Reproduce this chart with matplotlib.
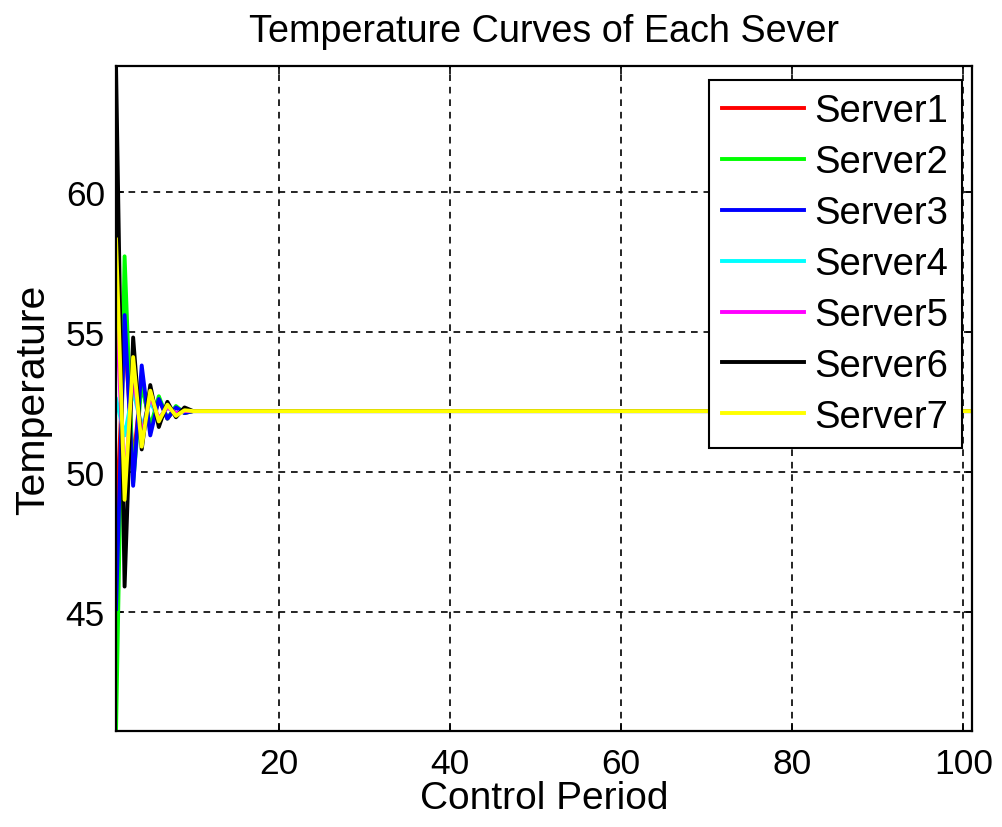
import matplotlib
matplotlib.use("Agg")
import matplotlib.pyplot as plt
import numpy as np

plt.rcParams['font.family'] = ['Liberation Sans', 'DejaVu Sans']

# Control periods 1..101
periods = list(range(1, 102))
steady = 52.17

# Transient parts (first control periods), then steady value
server1_head = [48.0, 55.0, 50.3, 53.3, 51.5, 52.6, 51.9, 52.3, 52.1]
server2_head = [40.75, 57.7, 49.6, 53.2, 51.6, 52.7, 51.9, 52.35, 52.1]
server3_head = [45.1, 55.6, 49.5, 53.8, 51.3, 52.6, 51.9, 52.3, 52.1]
server4_head = [52.6, 51.3, 52.9, 51.6, 52.5, 51.9, 52.3, 52.1]
server5_head = [56.0, 49.5, 53.5, 51.3, 52.7, 51.9, 52.3, 52.1]
server6_head = [64.5, 45.9, 54.8, 50.8, 53.1, 51.6, 52.5, 51.95, 52.3]
server7_head = [58.3, 49.0, 54.1, 50.9, 52.9, 51.8, 52.4, 52.0, 52.2]

heads = [server1_head, server2_head, server3_head, server4_head,
         server5_head, server6_head, server7_head]
names = ['Server1', 'Server2', 'Server3', 'Server4', 'Server5', 'Server6', 'Server7']
colors = ['#ff0000', '#00ff00', '#0000ff', '#00ffff', '#ff00ff', '#000000', '#ffff00']

fig = plt.figure(figsize=(10.02, 8.28), dpi=100)
ax = fig.add_axes([0.1158, 0.1163, 0.8542, 0.8028])

for head, name, c in zip(heads, names, colors):
    series = head + [steady] * (len(periods) - len(head))
    ax.plot(periods, series, color=c, lw=2.8, label=name)

ax.set_xlim(1, 101)
ax.set_ylim(40.75, 64.5)
ax.set_xticks([20, 40, 60, 80, 100])
ax.set_yticks([45, 50, 55, 60])
ax.tick_params(axis='both', direction='in', labelsize=25.5, length=6, width=1.2,
               top=True, right=True)
ax.tick_params(axis='x', pad=12)
ax.tick_params(axis='y', pad=8)
ax.grid(True, color='black', linestyle=(0, (4, 3.5)), lw=1.2)
for s in ax.spines.values():
    s.set_linewidth(1.6)
    s.set_color('black')

ax.set_title('Temperature Curves of Each Sever', fontsize=27.2, pad=18)
ax.set_xlabel('Control Period', fontsize=28, labelpad=0)
ax.set_ylabel('Temperature', fontsize=29.5, labelpad=10)

leg = ax.legend(loc='upper right', bbox_to_anchor=(0.988, 0.979), borderaxespad=0,
                fontsize=27.5, handlelength=2.15, labelspacing=0.39, handletextpad=0.26,
                fancybox=False, framealpha=1, edgecolor='black', borderpad=0.35)
leg.get_frame().set_linewidth(1.5)

fig.savefig('out.png', dpi=100)
